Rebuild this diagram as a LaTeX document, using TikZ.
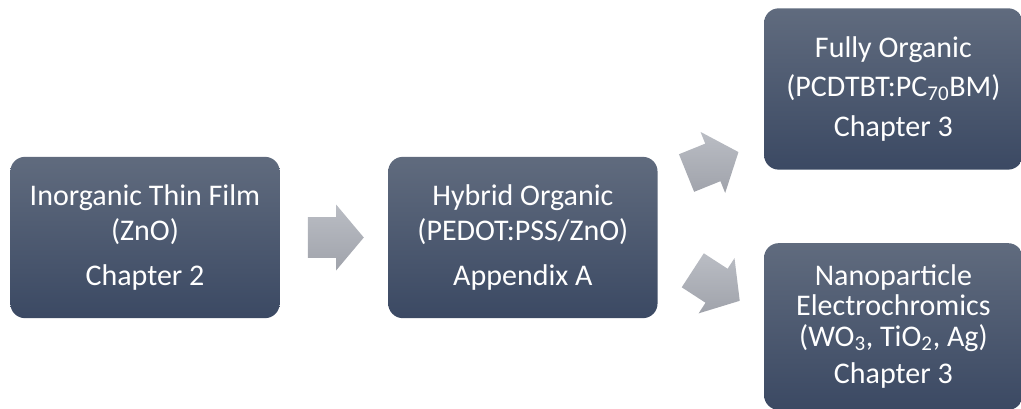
\documentclass[tikz,border=0pt]{standalone}
\usepackage{fontspec}
\setmainfont{Carlito}
\usetikzlibrary{positioning, shapes.arrows, calc}

\definecolor{boxtop}{RGB}{96,107,126}
\definecolor{boxbot}{RGB}{59,73,99}
\definecolor{arrtop}{RGB}{186,189,196}
\definecolor{arrbot}{RGB}{160,163,171}

\begin{document}
\begin{tikzpicture}[
    x=0.75pt, y=-0.75pt,
    stagebox/.style={
        rectangle, rounded corners=11pt,
        top color=boxtop, bottom color=boxbot,
        text=white, align=center, inner sep=0pt,
        minimum height=121pt, minimum width=202pt,
        font=\fontsize{22.5}{26}\selectfont
    },
    blockarr/.style={
        single arrow, inner xsep=0pt, inner ysep=15pt,
        top color=arrtop, bottom color=arrbot,
        minimum height=42pt,
        single arrow head extend=9.5pt, single arrow tip angle=100
    },
]
\useasboundingbox (0,0) rectangle (1021,408);
\clip (0,0) rectangle (1021,408);
% left column
\node[stagebox] (film) at (145,237.5)
    {Inorganic Thin Film\\(ZnO)\\[7.5pt]Chapter 2};
\node[stagebox, right=81pt of film] (hybrid)
    {Hybrid Organic\\(PEDOT:PSS/ZnO)\\[7.5pt]Appendix A};
% right column
\node[stagebox, minimum width=194pt, right=79.5pt of hybrid, yshift=111.4pt] (organic)
    {Fully Organic\\[3pt](PCDTBT:PC\textsubscript{70}BM)\\[4pt]Chapter 3};
\node[stagebox, minimum width=194pt, minimum height=125pt, below=54.75pt of organic,
      font=\fontsize{22.5}{23}\selectfont] (nano)
    {Nanoparticle\\Electrochromics\\(WO\textsubscript{3}, TiO\textsubscript{2}, Ag)\\[5pt]Chapter 3};
% block arrows
\node[blockarr, xshift=-5pt] (a1) at ($(film.east)!0.5!(hybrid.west)$) {};
\node[blockarr, rotate=22, xshift=-5pt] (a2) at ($(hybrid.east)!0.5!(organic.west)$) {};
\node[blockarr, rotate=-33, xshift=-1.5pt] (a3) at ($(hybrid.east)!0.5!(nano.west)$) {};
\end{tikzpicture}
\end{document}
